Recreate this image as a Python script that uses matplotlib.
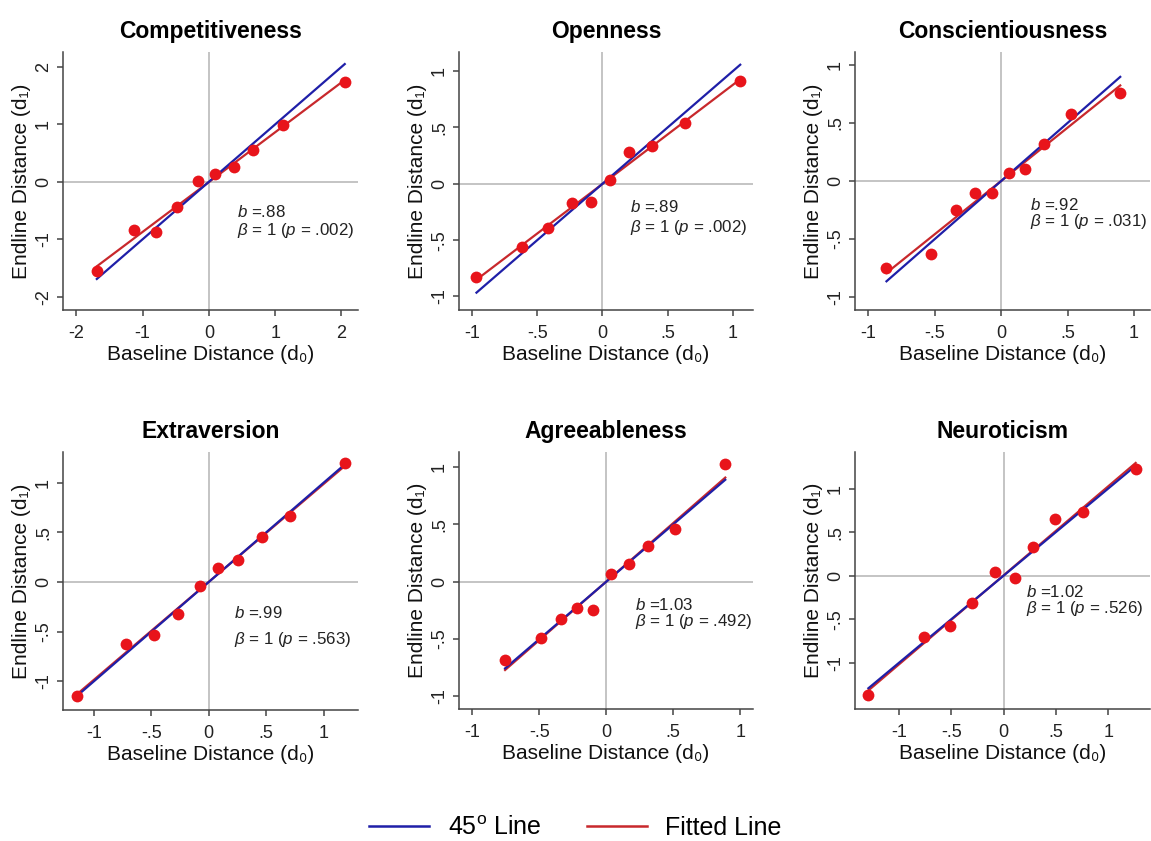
import numpy as np
import matplotlib
matplotlib.use("Agg")
import matplotlib.pyplot as plt
from matplotlib.lines import Line2D

plt.rcParams['font.family'] = ['Liberation Sans', 'DejaVu Sans']
plt.rcParams['mathtext.fontset'] = 'custom'
plt.rcParams['mathtext.rm'] = 'Liberation Sans'
plt.rcParams['mathtext.it'] = 'Liberation Sans:italic'
plt.rcParams['mathtext.bf'] = 'Liberation Sans:bold'

### data (baseline d0, endline d1)
titles = ["Competitiveness", "Openness", "Conscientiousness",
          "Extraversion", "Agreeableness", "Neuroticism"]

comp_x = [-1.69, -1.13, -0.80, -0.48, -0.16, 0.09, 0.38, 0.67, 1.12, 2.05]
comp_y = [-1.55, -0.83, -0.87, -0.43, 0.01, 0.13, 0.25, 0.56, 0.99, 1.74]
open_x = [-0.966, -0.613, -0.414, -0.235, -0.089, 0.056, 0.202, 0.383, 0.631, 1.057]
open_y = [-0.825, -0.565, -0.396, -0.169, -0.160, 0.038, 0.281, 0.337, 0.538, 0.917]
cons_x = [-0.863, -0.527, -0.338, -0.199, -0.072, 0.057, 0.177, 0.326, 0.525, 0.896]
cons_y = [-0.751, -0.630, -0.249, -0.106, -0.100, 0.066, 0.106, 0.315, 0.579, 0.759]
extr_x = [-1.152, -0.723, -0.479, -0.267, -0.075, 0.084, 0.253, 0.464, 0.705, 1.184]
extr_y = [-1.148, -0.628, -0.530, -0.322, -0.040, 0.141, 0.218, 0.456, 0.664, 1.195]
agre_x = [-0.756, -0.488, -0.341, -0.221, -0.102, 0.035, 0.169, 0.313, 0.515, 0.888]
agre_y = [-0.681, -0.493, -0.325, -0.232, -0.249, 0.064, 0.151, 0.310, 0.455, 1.023]
neur_x = [-1.292, -0.759, -0.511, -0.298, -0.083, 0.105, 0.283, 0.495, 0.762, 1.263]
neur_y = [-1.374, -0.706, -0.576, -0.317, 0.042, -0.023, 0.332, 0.656, 0.737, 1.229]

b_values = [".88", ".89", ".92", ".99", "1.03", "1.02"]
p_values = [".002", ".002", ".031", ".563", ".492", ".526"]

ticks_wide = [-2, -1, 0, 1, 2]
ticklabels_wide = ["-2", "-1", "0", "1", "2"]
ticks_half = [-1, -0.5, 0, 0.5, 1]
ticklabels_half = ["-1", "-.5", "0", ".5", "1"]

all_x = [comp_x, open_x, cons_x, extr_x, agre_x, neur_x]
all_y = [comp_y, open_y, cons_y, extr_y, agre_y, neur_y]

### layout / style
W, H = 1151, 841
# left, right, top, bottom in pixels
boxes = [(63, 358, 52, 310), (459, 753, 52, 310), (855, 1150, 52, 310),
         (63, 358, 452, 710), (459, 753, 452, 709), (855, 1150, 452, 709)]
xlims = [(-2.2, 2.25), (-1.10, 1.155), (-1.10, 1.12),
         (-1.27, 1.30), (-1.10, 1.095), (-1.42, 1.40)]
ylims = [(-2.23, 2.26), (-1.12, 1.17), (-1.11, 1.11),
         (-1.29, 1.31), (-1.11, 1.13), (-1.53, 1.42)]
text_pos = [(0.59, 0.38, 0.31), (0.583, 0.40, 0.32), (0.594, 0.408, 0.342),
            (0.58, 0.377, 0.274), (0.60, 0.406, 0.340), (0.58, 0.456, 0.392)]

blue = "#1f1fa8"
red = "#c8282c"
dot = "#e8141b"
grey = "#b4b4b4"
axcol = "#444444"

fig = plt.figure(figsize=(W / 100, H / 100), dpi=100)

for i in range(6):
    l, r, t, bt = boxes[i]
    ax = fig.add_axes([l / W, (H - bt) / H, (r - l) / W, (bt - t) / H])
    x = np.array(all_x[i])
    y = np.array(all_y[i])

    ax.axhline(0, color=grey, lw=1.1, zorder=1)
    ax.axvline(0, color=grey, lw=1.1, zorder=1)

    xs = np.array([x.min(), x.max()])
    slope, icpt = np.polyfit(x, y, 1)
    ax.plot(xs, slope * xs + icpt, color=red, lw=1.6, zorder=2)
    ax.plot(xs, xs, color=blue, lw=1.6, zorder=3)
    ax.plot(x, y, "o", color=dot, ms=8.5, mec="none", zorder=4)

    ax.set_xlim(*xlims[i])
    ax.set_ylim(*ylims[i])
    if i == 0:
        ax.set_xticks(ticks_wide, ticklabels_wide)
        ax.set_yticks(ticks_wide, ticklabels_wide)
    else:
        ax.set_xticks(ticks_half, ticklabels_half)
        ax.set_yticks(ticks_half, ticklabels_half)
    for lab in ax.get_yticklabels():
        lab.set_rotation(90)
        lab.set_va("center")

    ax.spines["top"].set_visible(False)
    ax.spines["right"].set_visible(False)
    for s in ["left", "bottom"]:
        ax.spines[s].set_color(axcol)
        ax.spines[s].set_linewidth(1.1)
    ax.tick_params(direction="out", length=4, width=1.1, color=axcol,
                   labelsize=13, labelcolor="#222222")
    ax.tick_params(axis="x", pad=7)
    ax.tick_params(axis="y", pad=4)

    ax.set_xlabel("Baseline Distance (d\u2080)", fontsize=15, labelpad=2, color="#111111")
    ax.set_ylabel("Endline Distance (d\u2081)", fontsize=15, labelpad=3, color="#111111")
    ax.set_title(titles[i], fontsize=16.5, fontweight="bold", pad=10)

    tx, ty1, ty2 = text_pos[i]
    ax.text(tx, ty1, r"$b$ =" + b_values[i], transform=ax.transAxes,
            fontsize=12.2, va="center", ha="left", color="#222222")
    ax.text(tx, ty2, r"$\beta$ = 1 ($p$ = " + p_values[i] + ")", transform=ax.transAxes,
            fontsize=12.2, va="center", ha="left", color="#222222")

handles = [Line2D([], [], color=blue, lw=1.8), Line2D([], [], color=red, lw=1.8)]
fig.legend(handles, [r"45$^\mathrm{o}$ Line", "Fitted Line"], loc="center",
           bbox_to_anchor=(0.5, 1 - 828 / H), ncol=2, frameon=False, fontsize=18,
           handlelength=2.4, handletextpad=0.75, columnspacing=1.8)

fig.savefig("out.png", dpi=100)
